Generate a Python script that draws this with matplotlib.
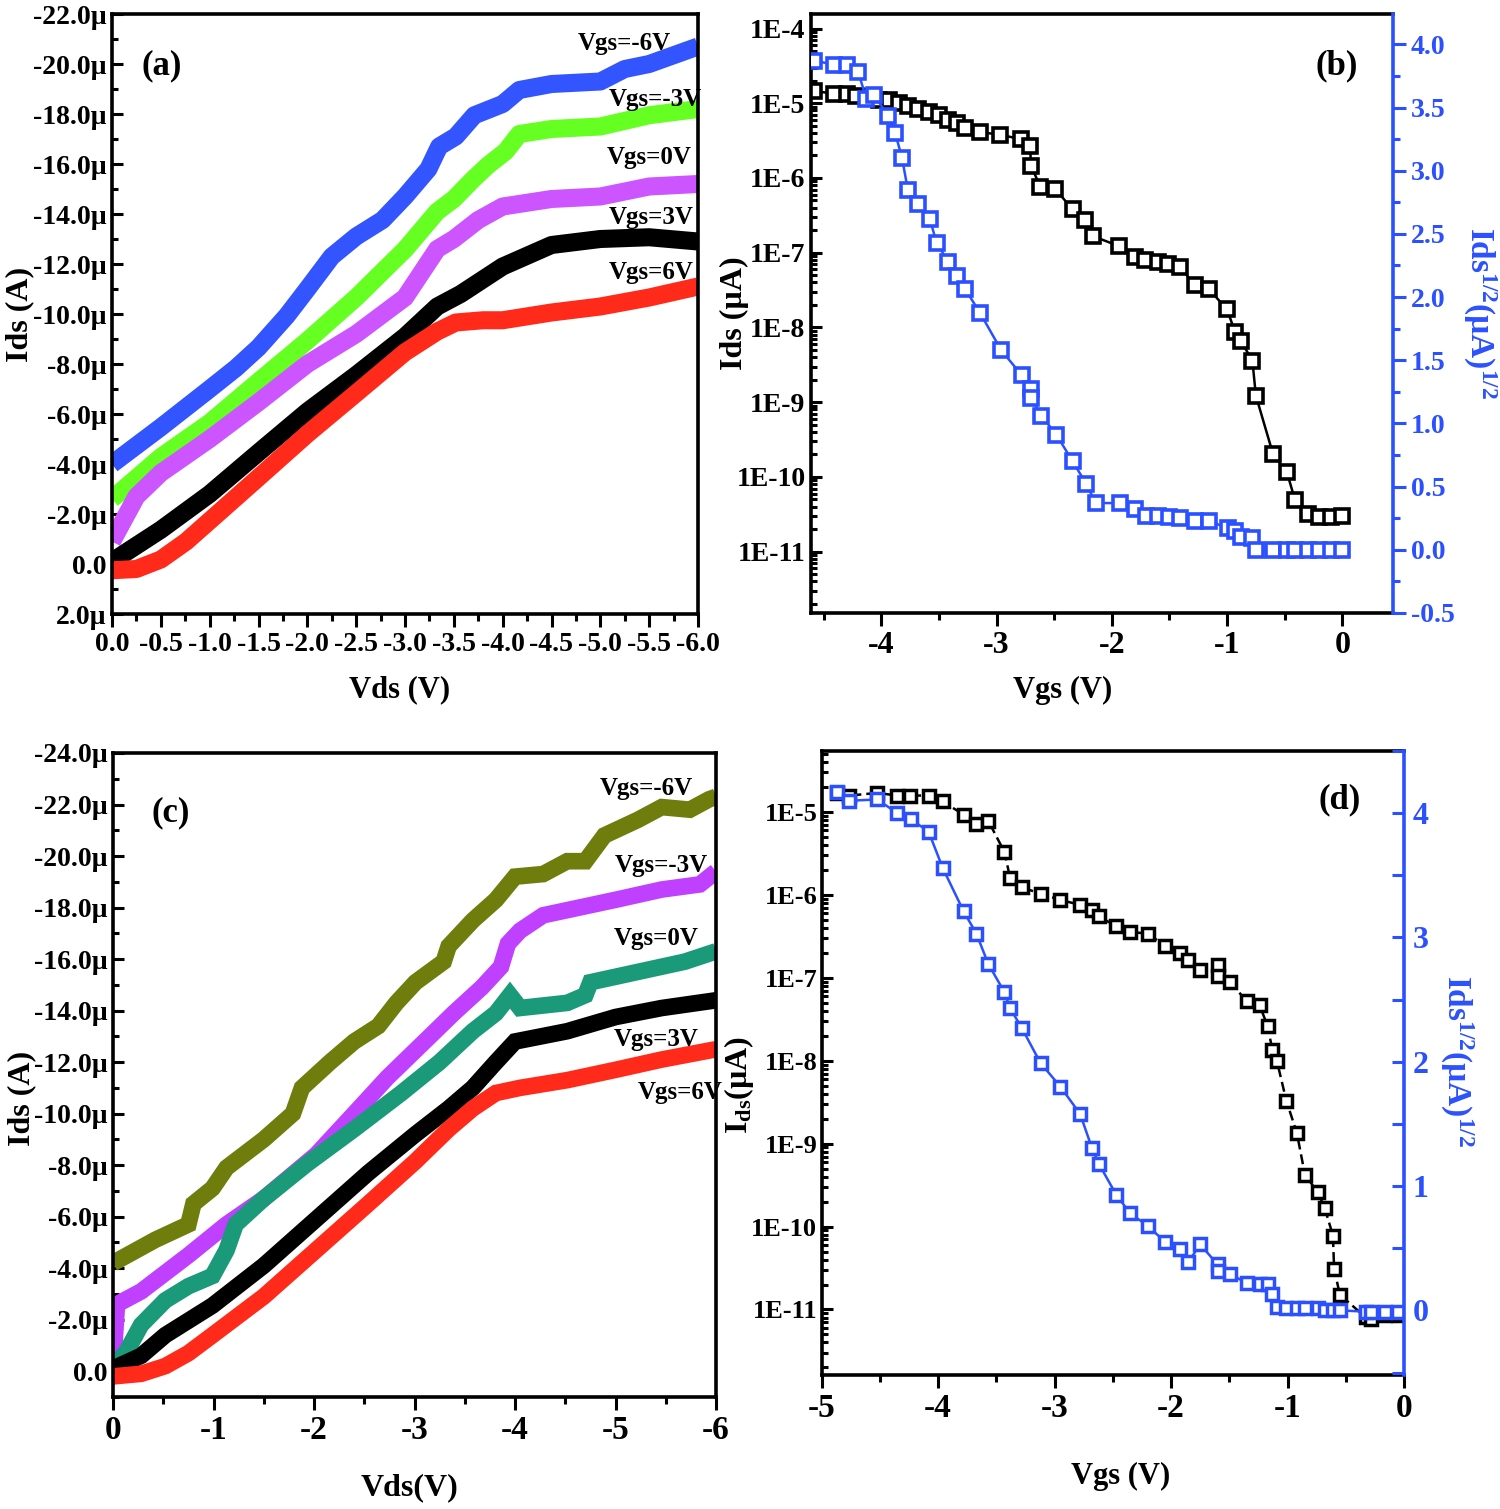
import numpy as np
import matplotlib
matplotlib.use("Agg")
import matplotlib.pyplot as plt
from matplotlib.ticker import MultipleLocator, FuncFormatter, LogLocator, NullFormatter

plt.rcParams['font.family'] = ['Liberation Serif', 'DejaVu Serif']
plt.rcParams['font.weight'] = 'bold'
plt.rcParams['axes.labelweight'] = 'bold'
plt.rcParams['mathtext.fontset'] = 'custom'
plt.rcParams['mathtext.rm'] = 'Liberation Serif:bold'
plt.rcParams['mathtext.it'] = 'Liberation Serif:bold'
plt.rcParams['mathtext.bf'] = 'Liberation Serif:bold'
plt.rcParams['mathtext.default'] = 'rm'

# ---------------- (a) output curves, Ids in uA ----------------
vgs_labels = ["Vgs=-6V", "Vgs=-3V", "Vgs=0V", "Vgs=3V", "Vgs=6V"]

a_x_m6 = [0, -0.5, -1.0, -1.27, -1.5, -1.79, -2.0, -2.25, -2.5, -2.77, -3.0, -3.24, -3.35,
          -3.52, -3.71, -4.0, -4.17, -4.5, -5.0, -5.25, -5.5, -6.0]
a_y_m6 = [-4.0, -5.47, -7.0, -7.84, -8.66, -9.93, -11.0, -12.3, -13.1, -13.76, -14.7, -15.8, -16.7,
          -17.1, -17.95, -18.4, -18.96, -19.2, -19.3, -19.8, -20.0, -20.7]
a_x_m3 = [0, -0.5, -1.0, -1.5, -2.0, -2.5, -3.0, -3.33, -3.5, -3.7, -3.85, -4.03, -4.17,
          -4.5, -5.0, -5.5, -6.0]
a_y_m3 = [-2.6, -4.28, -5.65, -7.3, -8.93, -10.66, -12.58, -14.1, -14.6, -15.4, -15.95, -16.5, -17.2,
          -17.4, -17.5, -17.95, -18.2]
a_x_0 = [0, -0.25, -0.5, -1.0, -1.5, -2.0, -2.5, -3.0, -3.33, -3.5, -3.75, -4.0, -4.5, -5.0, -5.5, -6.0]
a_y_0 = [-0.9, -2.7, -3.64, -5.0, -6.47, -8.0, -9.2, -10.66, -12.6, -13.0, -13.76, -14.3, -14.6,
         -14.7, -15.1, -15.2]
a_x_p3 = [0, -0.5, -1.0, -1.5, -2.0, -2.5, -3.0, -3.33, -3.57, -4.0, -4.5, -5.0, -5.5, -6.0]
a_y_p3 = [-0.1, -1.37, -2.8, -4.46, -6.1, -7.56, -9.1, -10.3, -10.8, -11.9, -12.76, -13.0, -13.07, -12.9]
a_x_p6 = [0, -0.25, -0.5, -0.76, -1.0, -1.5, -2.0, -2.5, -3.0, -3.33, -3.52, -3.8, -4.0, -4.5,
          -5.0, -5.5, -6.0]
a_y_p6 = [0.25, 0.2, -0.18, -0.9, -1.73, -3.46, -5.2, -6.83, -8.47, -9.3, -9.66, -9.75, -9.75, -10.06,
          -10.3, -10.66, -11.1]

# ---------------- (b) transfer curve ----------------
b_x_log = [-4.58, -4.41, -4.30, -4.22, -4.11, -4.02, -3.93, -3.85, -3.77, -3.68, -3.59, -3.50, -3.42,
           -3.34, -3.27, -3.14, -2.97, -2.79, -2.71, -2.70, -2.62, -2.49, -2.34, -2.23, -2.16, -1.94,
           -1.80, -1.71, -1.60, -1.51, -1.41, -1.28, -1.16, -1.00, -0.93, -0.88, -0.78, -0.75, -0.60,
           -0.48, -0.41, -0.30, -0.20, -0.10, 0.0]
b_ids = [1.45e-5, 1.35e-5, 1.32e-5, 1.26e-5, 1.2e-5, 1.12e-5, 1.1e-5, 1.0e-5, 9.1e-6, 8.5e-6, 7.6e-6,
         6.9e-6, 6.0e-6, 5.4e-6, 4.7e-6, 4.1e-6, 3.8e-6, 3.3e-6, 2.7e-6, 1.45e-6, 7.6e-7, 7.1e-7,
         3.8e-7, 2.7e-7, 1.66e-7, 1.23e-7, 8.7e-8, 8.1e-8, 7.6e-8, 7.1e-8, 6.5e-8, 3.7e-8, 3.3e-8,
         1.74e-8, 8.7e-9, 6.6e-9, 3.6e-9, 1.23e-9, 2.0e-10, 1.15e-10, 4.9e-11, 3.2e-11, 2.95e-11,
         2.95e-11, 3.0e-11]
b_x_sqrt = [-4.58, -4.41, -4.30, -4.20, -4.13, -4.06, -3.94, -3.88, -3.82, -3.77, -3.68, -3.58, -3.52,
            -3.42, -3.34, -3.27, -3.14, -2.96, -2.78, -2.70, -2.70, -2.61, -2.48, -2.34, -2.22, -2.14,
            -1.93, -1.80, -1.70, -1.60, -1.50, -1.41, -1.28, -1.16, -0.99, -0.93, -0.88, -0.78, -0.75,
            -0.60, -0.48, -0.41, -0.30, -0.20, -0.10, 0.0]
b_sqrt = [3.87, 3.84, 3.84, 3.78, 3.57, 3.60, 3.43, 3.30, 3.10, 2.85, 2.74, 2.62, 2.43, 2.28, 2.17,
          2.06, 1.87, 1.58, 1.38, 1.27, 1.20, 1.06, 0.91, 0.70, 0.52, 0.37, 0.37, 0.32, 0.27, 0.27,
          0.26, 0.25, 0.23, 0.23, 0.17, 0.15, 0.10, 0.09, 0.0, 0.0, 0.0, 0.0, 0.0, 0.0, 0.0, 0.0]

# ---------------- (c) output curves ----------------
c_x_m6 = [0, -0.28, -0.42, -0.75, -0.8, -0.99, -1.13, -1.5, -1.79, -1.88, -2.16, -2.4, -2.64, -2.82,
          -3.01, -3.29, -3.34, -3.58, -3.81, -4.0, -4.28, -4.52, -4.7, -4.89, -5.22, -5.46, -5.74,
          -5.93, -6.0]
c_y_m6 = [-4.2, -4.8, -5.1, -5.7, -6.5, -7.1, -7.9, -9.0, -10.0, -11.0, -12.0, -12.8, -13.4, -14.3,
          -15.1, -15.9, -16.5, -17.5, -18.3, -19.2, -19.3, -19.8, -19.8, -20.8, -21.4, -21.9, -21.8,
          -22.2, -22.3]
c_x_m3 = [0, -0.04, -0.28, -0.75, -1.13, -1.5, -2.02, -2.4, -2.73, -3.1, -3.39, -3.67, -3.86, -3.93,
          -4.05, -4.28, -4.52, -5.0, -5.46, -5.84, -6.0]
c_y_m3 = [-0.2, -2.6, -3.1, -4.5, -5.7, -6.7, -8.4, -10.0, -11.4, -12.8, -13.9, -14.9, -15.7, -16.6,
          -17.1, -17.7, -17.9, -18.3, -18.7, -18.9, -19.4]
c_x_0 = [0, -0.14, -0.28, -0.52, -0.75, -0.99, -1.13, -1.22, -1.5, -1.93, -2.4, -2.87, -3.25, -3.58,
         -3.81, -3.95, -4.05, -4.52, -4.7, -4.75, -5.22, -5.69, -6.0]
c_y_0 = [-0.1, -0.8, -1.8, -2.75, -3.3, -3.7, -4.7, -5.7, -6.7, -8.05, -9.4, -10.8, -12.0, -13.2,
         -13.9, -14.6, -14.1, -14.3, -14.6, -15.1, -15.5, -15.9, -16.3]
c_x_p3 = [0, -0.28, -0.52, -0.99, -1.5, -2.02, -2.54, -3.01, -3.34, -3.58, -3.81, -4.0, -4.52, -5.0,
          -5.46, -6.0]
c_y_p3 = [-0.1, -0.6, -1.4, -2.55, -4.1, -5.9, -7.7, -9.2, -10.2, -11.0, -12.0, -12.8, -13.2, -13.75,
          -14.1, -14.4]
c_x_p6 = [0, -0.28, -0.52, -0.75, -0.99, -1.5, -2.02, -2.54, -3.01, -3.34, -3.58, -3.81, -4.05, -4.52,
          -5.0, -5.46, -6.0]
c_y_p6 = [0.2, 0.1, -0.2, -0.7, -1.4, -2.9, -4.7, -6.5, -8.15, -9.4, -10.2, -10.8, -11.0, -11.3, -11.7,
          -12.1, -12.5]

# ---------------- (d) transfer curve ----------------
d_x_log = [-4.87, -4.76, -4.52, -4.35, -4.24, -4.08, -3.96, -3.78, -3.67, -3.57, -3.43, -3.38, -3.28,
           -3.12, -2.95, -2.78, -2.68, -2.62, -2.47, -2.35, -2.20, -2.05, -1.92, -1.85, -1.75, -1.60,
           -1.60, -1.49, -1.35, -1.24, -1.17, -1.13, -1.09, -1.01, -0.92, -0.85, -0.74, -0.68, -0.61,
           -0.60, -0.55, -0.33, -0.28, -0.16, -0.05]
d_ids = [1.7e-5, 1.58e-5, 1.7e-5, 1.58e-5, 1.58e-5, 1.58e-5, 1.34e-5, 9.3e-6, 7.1e-6, 7.9e-6, 3.3e-6,
         1.58e-6, 1.23e-6, 1.04e-6, 8.7e-7, 7.6e-7, 6.5e-7, 5.5e-7, 4.2e-7, 3.6e-7, 3.4e-7, 2.45e-7,
         2.0e-7, 1.66e-7, 1.23e-7, 1.41e-7, 1.05e-7, 8.9e-8, 5.2e-8, 4.7e-8, 2.6e-8, 1.35e-8, 9.8e-9,
         3.3e-9, 1.35e-9, 4.2e-10, 2.6e-10, 1.66e-10, 7.8e-11, 3.1e-11, 1.5e-11, 8.1e-12, 7.6e-12,
         8.7e-12, 8.7e-12]
d_x_sqrt = [-4.87, -4.76, -4.52, -4.35, -4.23, -4.08, -3.96, -3.78, -3.67, -3.57, -3.43, -3.38, -3.28,
            -3.12, -2.95, -2.78, -2.68, -2.62, -2.47, -2.35, -2.20, -2.05, -1.92, -1.85, -1.75, -1.60,
            -1.60, -1.49, -1.35, -1.24, -1.17, -1.13, -1.09, -1.01, -0.92, -0.85, -0.74, -0.68, -0.61,
            -0.55, -0.33, -0.28, -0.16, -0.05]
d_sqrt = [4.17, 4.10, 4.11, 4.00, 3.95, 3.85, 3.56, 3.21, 3.03, 2.79, 2.56, 2.43, 2.27, 1.99, 1.80,
          1.58, 1.31, 1.18, 0.93, 0.78, 0.68, 0.55, 0.49, 0.39, 0.53, 0.37, 0.32, 0.29, 0.22, 0.21,
          0.21, 0.13, 0.03, 0.02, 0.02, 0.02, 0.02, 0.0, 0.0, 0.0, -0.01, -0.01, -0.01, -0.01]

a_colors = ["#3355ff", "#66ff22", "#cc55ff", "black", "#ff2a1a"]
c_colors = ["#6e7d0c", "#c040ff", "#1a9a78", "black", "#ff2a1a"]
blue = "#2b50ff"

W, H = 1500, 1509
fig = plt.figure(figsize=(W / 100, H / 100), dpi=100)


def px_axes(l, t, r, b):
    return fig.add_axes([l / W, 1 - b / H, (r - l) / W, (b - t) / H])


def style(ax, xsize, ysize):
    for s in ax.spines.values():
        s.set_linewidth(2.6)
    ax.tick_params(axis='y', which='both', direction='in', right=False, width=2.2, labelsize=ysize, pad=4)
    ax.tick_params(axis='y', which='major', length=8)
    ax.tick_params(axis='y', which='minor', length=4.5)
    ax.tick_params(axis='x', which='both', direction='out', top=False, width=2.2, labelsize=xsize, pad=4)
    ax.tick_params(axis='x', which='major', length=9)
    ax.tick_params(axis='x', which='minor', length=5)


def place_labels(ax, xpos, ypos):
    # label coordinates are the centres of the texts (axes fraction)
    ax.xaxis.set_label_coords(*xpos)
    ax.yaxis.set_label_coords(*ypos)
    for lab in (ax.xaxis.label, ax.yaxis.label):
        lab.set_va('center')
        lab.set_ha('center')


def ua_fmt(v, p):
    return "0.0" if abs(v) < 1e-9 else f"{v:.1f}\u00b5"


def int_fmt(v, p):
    return f"{int(round(v))}" if abs(v) > 1e-9 else "0"


def dec_fmt(v, p):
    return f"{v:.1f}" if abs(v) > 1e-9 else "0.0"


def log_fmt(v, p):
    return f"1E{int(round(np.log10(v)))}"


# ---------- panel (a) ----------
axa = px_axes(112, 14, 698, 614)
for xs, ys, c in zip([a_x_m6, a_x_m3, a_x_0, a_x_p3, a_x_p6],
                     [a_y_m6, a_y_m3, a_y_0, a_y_p3, a_y_p6], a_colors):
    axa.plot(xs, ys, color=c, lw=13, solid_joinstyle='round', solid_capstyle='butt')
axa.set_xlim(0, -6)
axa.set_ylim(2, -22)
axa.xaxis.set_major_locator(MultipleLocator(0.5))
axa.xaxis.set_minor_locator(MultipleLocator(0.25))
axa.yaxis.set_major_locator(MultipleLocator(2))
axa.yaxis.set_minor_locator(MultipleLocator(1))
axa.xaxis.set_major_formatter(FuncFormatter(dec_fmt))
axa.yaxis.set_major_formatter(FuncFormatter(ua_fmt))
style(axa, 20, 20)
axa.set_xlabel("Vds (V)", fontsize=22)
axa.set_ylabel("Ids (A)", fontsize=23)
place_labels(axa, (0.491, -0.127), (-0.158, 0.5))
axa.text(0.085, 0.913, "(a)", transform=axa.transAxes, fontsize=25, ha='center', va='center')
for (tx, ty), lab in zip([(0.875, 0.950), (0.927, 0.857), (0.917, 0.76), (0.92, 0.66), (0.92, 0.57)],
                         vgs_labels):
    axa.text(tx, ty, lab, transform=axa.transAxes, fontsize=18, ha='center', va='center')

# ---------- panel (b) ----------
axb = px_axes(811, 14, 1393, 613)
axb.plot(b_x_log, b_ids, color='black', lw=1.8, marker='s', ms=9.5, mew=2.6, mfc='white', mec='black')
axb.set_yscale('log')
axb.set_xlim(-4.61, 0.44)
axb.set_ylim(10 ** -11.82, 10 ** -3.806)
axb.yaxis.set_major_locator(LogLocator(base=10, numticks=20))
axb.yaxis.set_minor_locator(LogLocator(base=10, subs=np.arange(2, 10), numticks=20))
axb.yaxis.set_minor_formatter(NullFormatter())
axb.yaxis.set_major_formatter(FuncFormatter(log_fmt))
axb.xaxis.set_major_locator(MultipleLocator(1))
axb.xaxis.set_minor_locator(MultipleLocator(0.5))
axb.xaxis.set_major_formatter(FuncFormatter(int_fmt))
style(axb, 23, 20)
axb.spines['right'].set_visible(False)
axb.set_xlabel("Vgs (V)", fontsize=22)
axb.set_ylabel("Ids (\u00b5A)", fontsize=23)
place_labels(axb, (0.433, -0.13), (-0.131, 0.5))
axb.text(0.904, 0.913, "(b)", transform=axb.transAxes, fontsize=25, ha='center', va='center')

tb = axb.twinx()
tb.plot(b_x_sqrt, b_sqrt, color=blue, lw=1.8, marker='s', ms=9.5, mew=2.6, mfc='white', mec=blue)
tb.set_ylim(-0.5, 4.24)
tb.yaxis.set_major_locator(MultipleLocator(0.5))
tb.yaxis.set_minor_locator(MultipleLocator(0.25))
tb.yaxis.set_major_formatter(FuncFormatter(dec_fmt))
for k in ['left', 'top', 'bottom']:
    tb.spines[k].set_visible(False)
tb.spines['right'].set_color(blue)
tb.spines['right'].set_linewidth(2.6)
tb.tick_params(axis='y', which='both', direction='out', colors=blue, width=2.2, labelsize=20, pad=4)
tb.tick_params(axis='y', which='major', length=9)
tb.tick_params(axis='y', which='minor', length=5)
tb.set_ylabel("Ids$^{1/2}$(\u00b5A)$^{1/2}$", fontsize=24, color=blue, rotation=-90)
tb.yaxis.set_label_coords(1.148, 0.5)
tb.yaxis.label.set_va('center')
tb.yaxis.label.set_ha('center')

# ---------- panel (c) ----------
axc = px_axes(113, 753, 716, 1397)
for xs, ys, c in zip([c_x_m6, c_x_m3, c_x_0, c_x_p3, c_x_p6],
                     [c_y_m6, c_y_m3, c_y_0, c_y_p3, c_y_p6], c_colors):
    axc.plot(xs, ys, color=c, lw=12, solid_joinstyle='miter', solid_capstyle='butt')
axc.set_xlim(0, -6)
axc.set_ylim(1.0, -24.0)
axc.xaxis.set_major_locator(MultipleLocator(1))
axc.xaxis.set_minor_locator(MultipleLocator(0.5))
axc.yaxis.set_major_locator(MultipleLocator(2))
axc.yaxis.set_minor_locator(MultipleLocator(1))
axc.xaxis.set_major_formatter(FuncFormatter(int_fmt))
axc.yaxis.set_major_formatter(FuncFormatter(ua_fmt))
style(axc, 24, 20)
axc.set_xlabel("Vds(V)", fontsize=23)
axc.set_ylabel("Ids (A)", fontsize=23)
place_labels(axc, (0.491, -0.141), (-0.152, 0.464))
axc.text(0.095, 0.907, "(c)", transform=axc.transAxes, fontsize=25, ha='center', va='center')
for (tx, ty), lab in zip([(0.885, 0.945), (0.91, 0.825), (0.90, 0.712), (0.90, 0.555), (0.94, 0.473)],
                         vgs_labels):
    axc.text(tx, ty, lab, transform=axc.transAxes, fontsize=18, ha='center', va='center')

# ---------- panel (d) ----------
axd = px_axes(821.5, 751, 1404, 1375)
axd.plot(d_x_log, d_ids, color='black', lw=1.8, marker='s', ms=8.5, mew=2.5, mfc='white', mec='black',
         dashes=(4, 2))
axd.set_yscale('log')
axd.set_xlim(-5, 0)
axd.set_ylim(10 ** -11.79, 10 ** -4.264)
axd.yaxis.set_major_locator(LogLocator(base=10, numticks=20))
axd.yaxis.set_minor_locator(LogLocator(base=10, subs=np.arange(2, 10), numticks=20))
axd.yaxis.set_minor_formatter(NullFormatter())
axd.yaxis.set_major_formatter(FuncFormatter(log_fmt))
axd.xaxis.set_major_locator(MultipleLocator(1))
axd.xaxis.set_minor_locator(MultipleLocator(0.5))
axd.xaxis.set_major_formatter(FuncFormatter(int_fmt))
style(axd, 24, 19)
axd.tick_params(axis='y', which='both', pad=3)
axd.spines['right'].set_visible(False)
axd.set_xlabel("Vgs (V)", fontsize=22)
axd.set_ylabel("I$_{ds}$(\u00b5A)", fontsize=23)
place_labels(axd, (0.514, -0.162), (-0.142, 0.465))
axd.text(0.89, 0.921, "(d)", transform=axd.transAxes, fontsize=25, ha='center', va='center')

td = axd.twinx()
td.plot(d_x_sqrt, d_sqrt, color=blue, lw=1.8, marker='s', ms=8.5, mew=2.5, mfc='white', mec=blue)
td.set_ylim(-0.52, 4.5)
td.yaxis.set_major_locator(MultipleLocator(1))
td.yaxis.set_minor_locator(MultipleLocator(0.5))
td.yaxis.set_major_formatter(FuncFormatter(int_fmt))
for k in ['left', 'top', 'bottom']:
    td.spines[k].set_visible(False)
td.spines['right'].set_color(blue)
td.spines['right'].set_linewidth(2.6)
td.tick_params(axis='y', which='both', direction='in', colors=blue, width=2.2, labelsize=23, pad=6)
td.tick_params(axis='y', which='major', length=9)
td.tick_params(axis='y', which='minor', length=9)
td.set_ylabel("Ids$^{1/2}$(\u00b5A)$^{1/2}$", fontsize=24, color=blue, rotation=-90)
td.yaxis.set_label_coords(1.09, 0.503)
td.yaxis.label.set_va('center')
td.yaxis.label.set_ha('center')

fig.savefig("out.png", dpi=100)
